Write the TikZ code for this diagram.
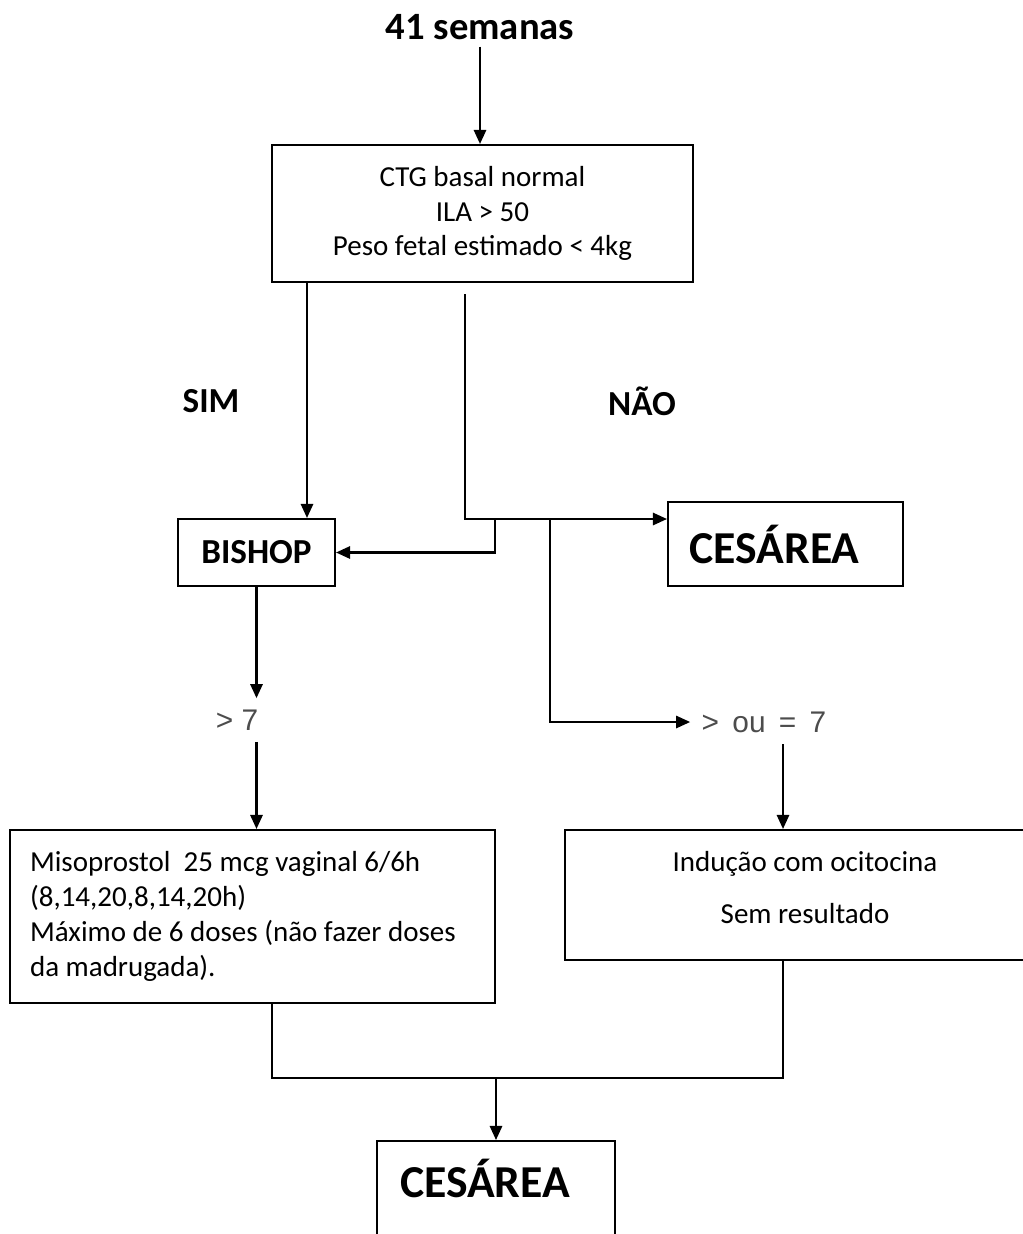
\documentclass[tikz,border=0pt]{standalone}
\usepackage{fontspec}
\setmainfont{Carlito}
\newfontfamily\plainfont{Liberation Sans}
\usetikzlibrary{arrows.meta}
\begin{document}
\begin{tikzpicture}[x=0.02cm,y=-0.02cm,line width=1.2pt,
  box/.style={draw,inner sep=0pt},
  big/.style={font=\fontsize{20}{24}\selectfont\bfseries},
  huge/.style={font=\fontsize{26}{30}\selectfont\bfseries},
  txt/.style={font=\fontsize{16.5}{19.6}\selectfont},
  score/.style={font=\plainfont\fontsize{17}{20}\selectfont,text=black!70,inner sep=6pt},
  arr/.style={-{Triangle[length=8pt,width=7pt]}}]
  \useasboundingbox (0,0) rectangle (1023,1234);
  \clip (0,0) rectangle (1023,1234);
  \node[big,font=\fontsize{22}{26}\selectfont\bfseries] (sem) at (480,27) {41 semanas};
  \node[box,txt,align=center,minimum width=8.42cm,minimum height=2.74cm] (ctg) at (482.5,213.5)
    {CTG basal normal\\ILA > 50\\Peso fetal estimado < 4kg};
  \node[big] (sim) at (211,401) {SIM};
  \node[big] (nao) at (642,401) {NÃO};
  \node[box,big,minimum width=3.14cm,minimum height=1.34cm] (bishop) at (256.5,552.5) {BISHOP};
  \node[box,huge,minimum width=4.7cm,minimum height=1.68cm] (ces1) at (785.5,544) {CESÁREA\kern0.44cm};
  \node[score] (gt7) at (237,720) {> 7};
  \node[score] (geq7) at (764,722) {> \,ou\, = \,7};
  \node[box,txt,align=flush left,text width=8.9cm,inner xsep=0.4cm,minimum height=3.46cm,
    font=\fontsize{16.5}{19.8}\selectfont] (miso) at (252.5,916.5)
    {Misoprostol~ 25 mcg vaginal 6/6h\\(8,14,20,8,14,20h)\\Máximo de 6 doses (não fazer doses\\da madrugada).};
  \node[box,txt,align=center,minimum width=9.6cm,minimum height=2.6cm] (indu) at (805,895)
    {Indução com ocitocina\\[10pt]Sem resultado\\[-10.6pt]\mbox{}};
  \node[box,huge,anchor=north,minimum width=4.76cm,text height=1.12cm,text depth=1.5cm] (ces2) at (496,1140)
    {CESÁREA\kern0.44cm};
  % junctions
  \coordinate (yes) at (307,0);
  \coordinate (no) at (465,519);
  \coordinate (nb) at (495,519);
  \coordinate (nc) at (550,519);
  \coordinate (rcol) at (783,1078);
  \coordinate (lcol) at (272,1078);
  % connectors
  \draw[arr] (sem.south) -- (ctg.north -| sem.south);
  \draw[arr] (ctg.south -| yes) -- (bishop.north -| yes);
  \draw[arr] (ctg.south -| no) ++(0,11) -- (no) -- (no -| ces1.west);
  \draw[arr] (nb) |- (bishop.east);
  \draw[arr] (nc) |- (geq7.west);
  \draw[arr] (bishop.south) -- (bishop.south |- gt7.north);
  \draw[arr] (bishop.south |- gt7.south) -- (miso.north -| bishop.south);
  \draw[arr] (geq7.south -| rcol) -- (indu.north -| rcol);
  \draw (miso.south -| lcol) -- (lcol) -- (rcol) -- (indu.south -| rcol);
  \draw[arr] (lcol -| ces2.north) -- (ces2.north);
\end{tikzpicture}
\end{document}
